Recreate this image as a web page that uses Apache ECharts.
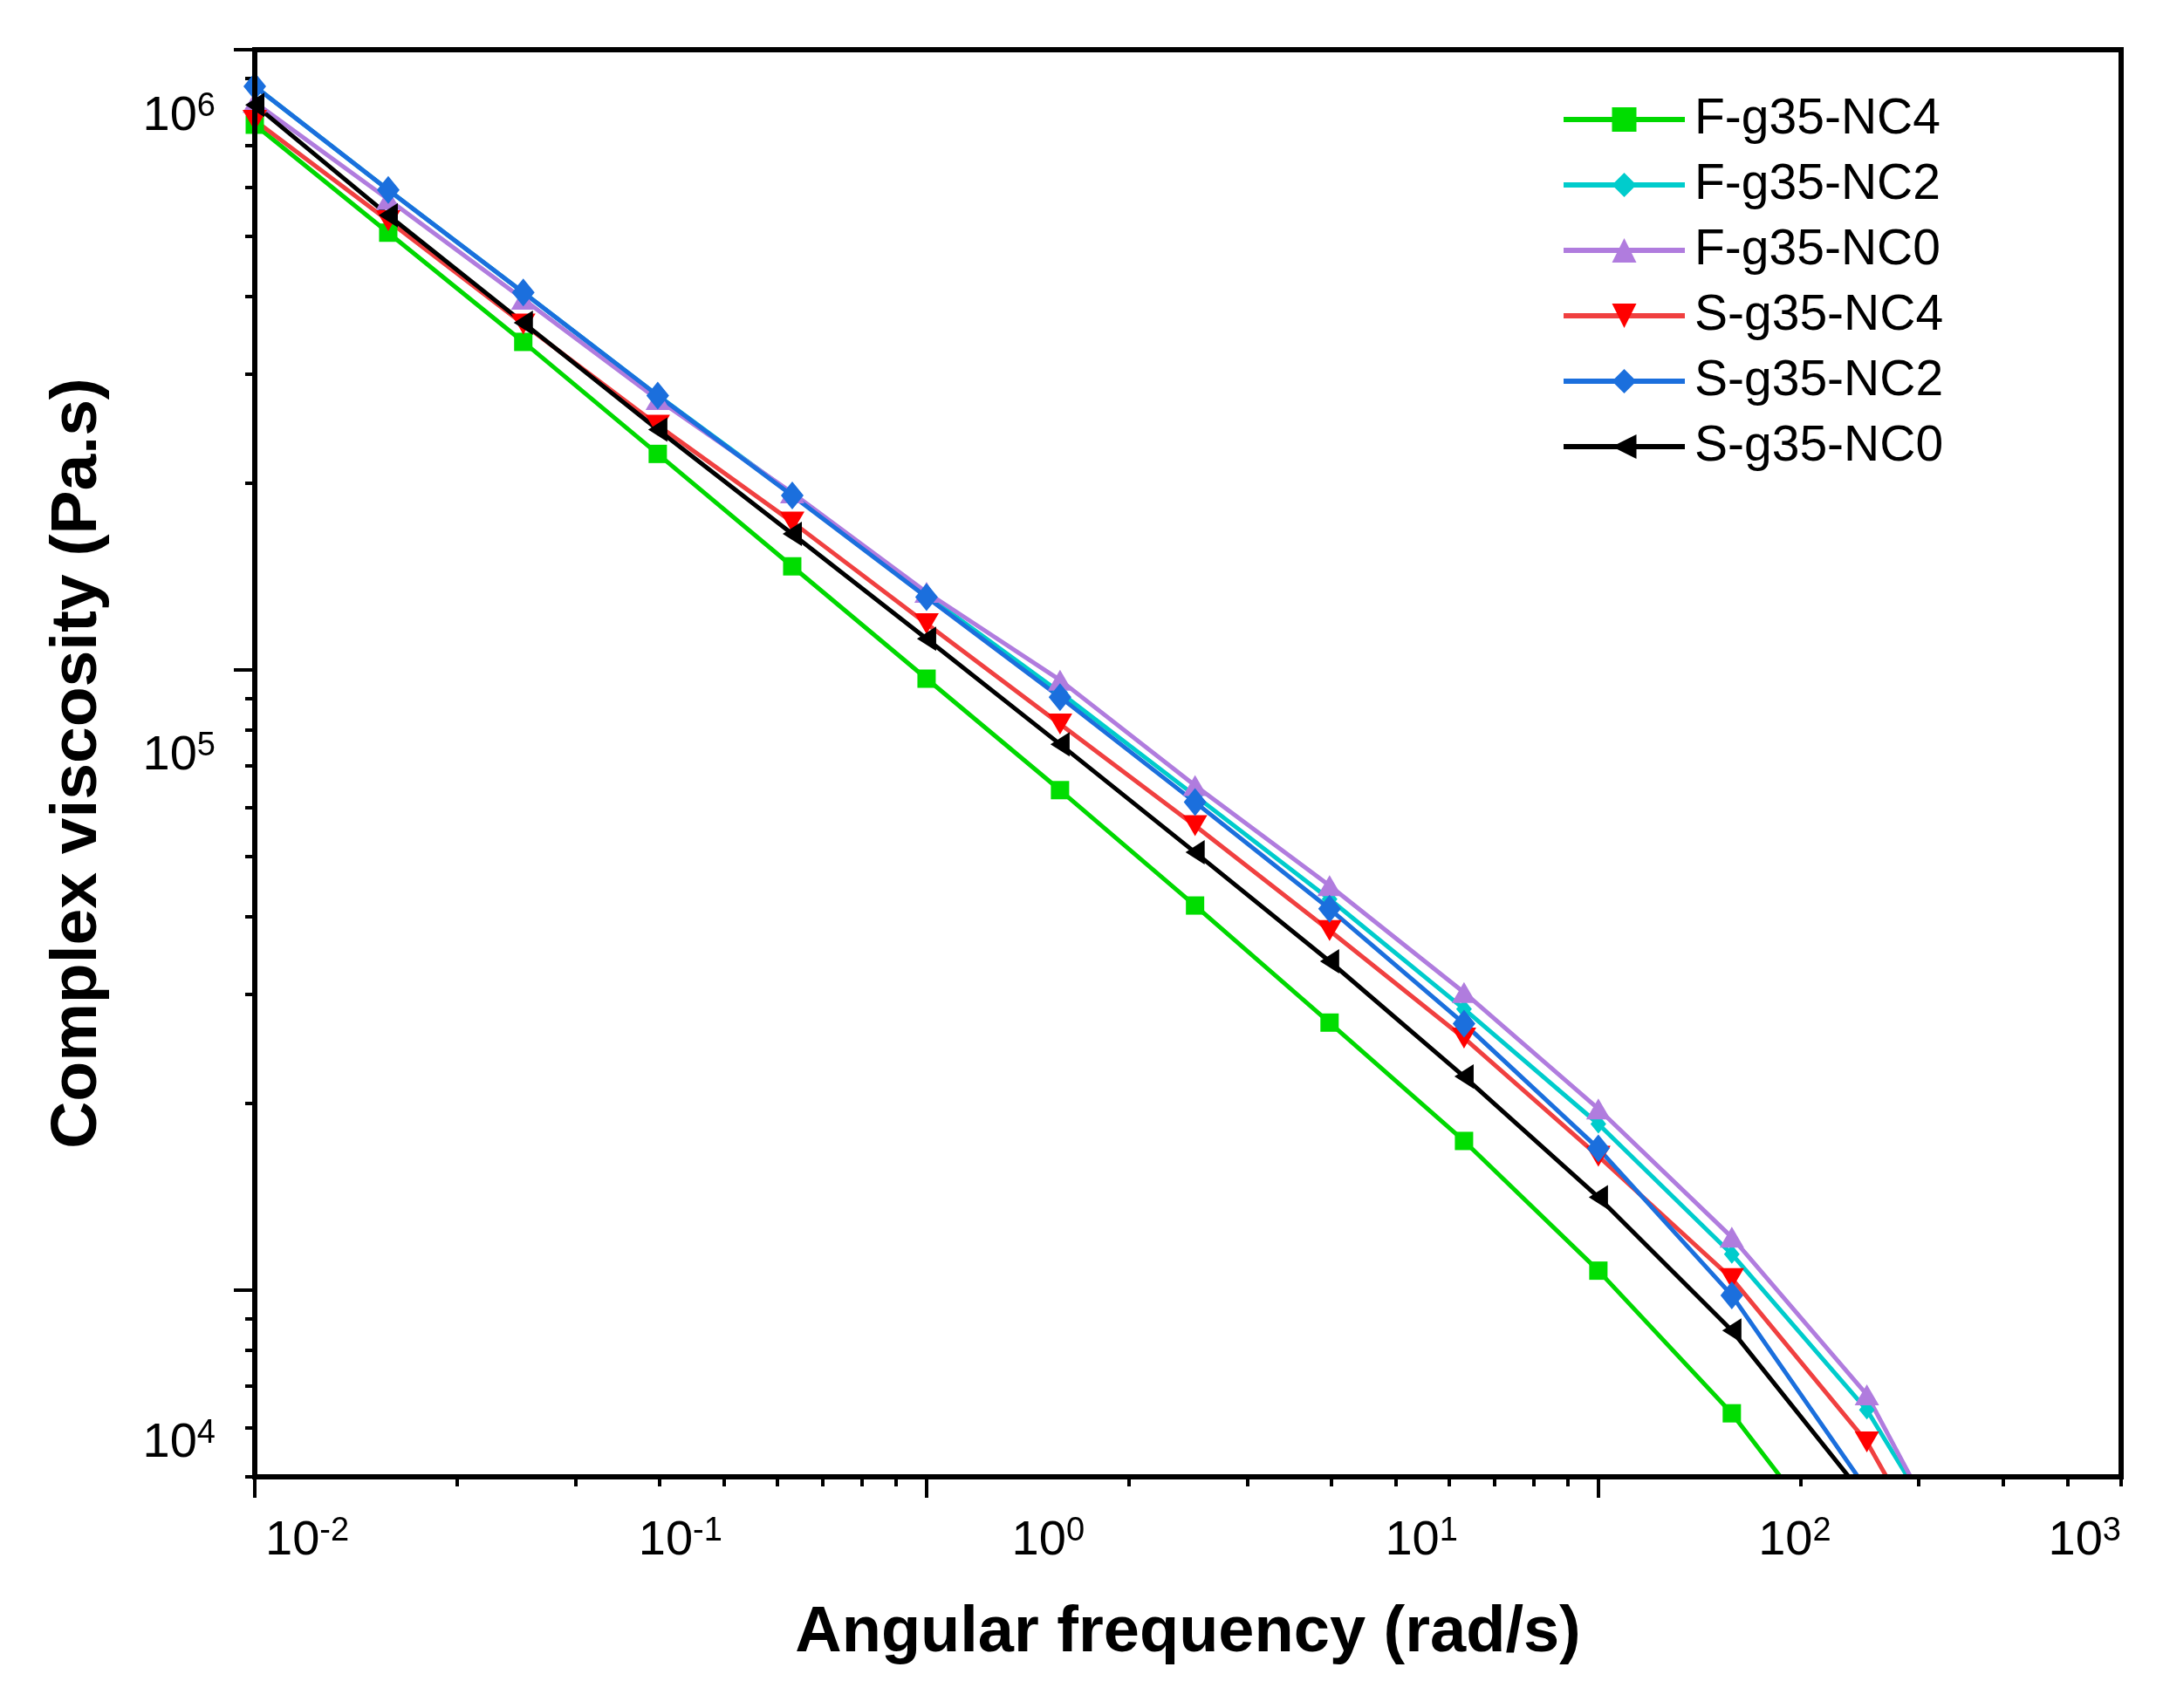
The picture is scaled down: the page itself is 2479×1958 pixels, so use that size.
<!DOCTYPE html>
<html><head><meta charset="utf-8">
<script src="https://cdn.jsdelivr.net/npm/echarts@6/dist/echarts.min.js"></script>
<style>html,body{margin:0;padding:0;background:#fff}#c{width:2479px;height:1958px}</style>
</head><body><div id="c"></div>
<script>
// ---- data (angular frequency in rad/s, complex viscosity in Pa.s) ----
const freq = [0.01, 0.0158, 0.0251, 0.0398, 0.0631, 0.1, 0.158, 0.251, 0.398, 0.631, 1, 1.58, 2.51, 3.98];
const seriesNames = ['F-g35-NC4', 'F-g35-NC2', 'F-g35-NC0', 'S-g35-NC4', 'S-g35-NC2', 'S-g35-NC0'];
const fNC4 = [757000, 507000, 338000, 223000, 146900, 96800, 64000, 41700, 27000, 17400, 10750, 6330, 3290];
const fNC2 = [873000, 594000, 406000, 277000, 192000, 132000, 92000, 62700, 42700, 28400, 18530, 11430, 6410, 2820];
const fNC0 = [823000, 574000, 396000, 273000, 193000, 133400, 96300, 65100, 44900, 30200, 19600, 12170, 6780, 2660];
const sNC4 = [769000, 530000, 361000, 248000, 173200, 118700, 81800, 56100, 38000, 25500, 16440, 10440, 5690, 2350];
const sNC2 = [873000, 594000, 406000, 277000, 191100, 131000, 90400, 61200, 41200, 26900, 16920, 9810, 4770];
const sNC0 = [815000, 541000, 363000, 244000, 165700, 112300, 75900, 50800, 33900, 22100, 14120, 8610, 4600];

// ---- axis ticks and tick labels ----
const xMajorTicks = [0.01, 0.1, 1];
const xMinorTicks = [0.02, 0.03, 0.04, 0.05, 0.06, 0.07, 0.08, 0.09, 0.2, 0.3, 0.4, 0.5, 0.6, 0.7, 0.8, 0.9, 2, 3, 4, 5, 6];
const yMajorTicks = [10000, 100000, 1000000];
const yMinorTicks = [5000, 6000, 7000, 8000, 9000, 20000, 30000, 40000, 50000, 60000, 70000, 80000, 90000,
  200000, 300000, 400000, 500000, 600000, 700000, 800000, 900000];
const xTickExps = ['-2', '-1', '0', '1', '2', '3'];
const yTickExps = ['4', '5', '6'];
const xTitle = 'Angular frequency (rad/s)';
const yTitle = 'Complex viscosity (Pa.s)';

const FONT = 'Liberation Sans';
const X_MIN = 0.01, X_MAX = 6, Y_MIN = 5000, Y_MAX = 1000000;
const lg = Math.log10;
// the printed y tick labels sit slightly off the decade ticks in the original figure
const yLabelAnchors = [3.753, 4.862, 5.892];

const rich = {
  b: { fontSize: 56, lineHeight: 60, fontFamily: FONT, color: '#000' },
  s: { fontSize: 38, lineHeight: 22, verticalAlign: 'top', fontFamily: FONT, color: '#000' }
};
const supLabel = (exps) => (v) => {
  const i = exps.map(Number).indexOf(Math.round(v));
  return '{b|10}{s|' + (i >= 0 ? exps[i] : '') + '}';
};
const tickLine = { color: '#000', width: 4 };
const noLine = { show: false, onZero: false };

function mk(name, vals, color, lineColor, symbol, size, rotate) {
  return {
    name, type: 'line', xAxisIndex: 0, yAxisIndex: 0,
    data: vals.map((v, i) => [freq[i], v]),
    symbol, symbolSize: size, symbolRotate: rotate || 0,
    lineStyle: { color: lineColor, width: 5 },
    itemStyle: { color },
    clip: true, animation: false
  };
}

const chart = echarts.init(document.getElementById('c'), null, { renderer: 'canvas' });
chart.setOption({
  backgroundColor: '#fff',
  animation: false,
  grid: { left: 292, right: 48, top: 57, bottom: 265, show: true, borderColor: '#000', borderWidth: 6, containLabel: false },
  legend: {
    orient: 'vertical', left: 1784, top: 102,
    itemWidth: 139, itemHeight: 35, itemGap: 15,
    data: seriesNames,
    lineStyle: { width: 6 },
    textStyle: { fontFamily: FONT, fontSize: 57, color: '#000', lineHeight: 60, padding: [0, 0, 0, 6] }
  },
  xAxis: [
    { type: 'log', logBase: 10, min: X_MIN, max: X_MAX, position: 'bottom', z: 5,
      axisLine: { show: true, onZero: false, lineStyle: { color: '#000', width: 6 } },
      axisTick: { show: false }, axisLabel: { show: false }, splitLine: { show: false },
      name: xTitle, nameLocation: 'middle', nameGap: 143,
      nameTextStyle: { fontFamily: FONT, fontSize: 74, fontWeight: 'bold', color: '#000' } },
    { type: 'value', min: lg(X_MIN), max: lg(X_MAX), position: 'bottom', offset: 0,
      axisLine: noLine, splitLine: { show: false }, axisLabel: { show: false },
      axisTick: { show: true, inside: false, length: 24, lineStyle: tickLine, customValues: xMajorTicks.map(lg) } },
    { type: 'value', min: lg(X_MIN), max: lg(X_MAX), position: 'bottom', offset: 0,
      axisLine: noLine, splitLine: { show: false }, axisLabel: { show: false },
      axisTick: { show: true, inside: false, length: 11, lineStyle: tickLine, customValues: xMinorTicks.map(lg) } },
    { type: 'value', min: -2, max: 3, position: 'bottom', offset: 0,
      axisLine: noLine, splitLine: { show: false }, axisTick: { show: false },
      axisLabel: { show: true, customValues: xTickExps.map(Number), formatter: supLabel(xTickExps), rich,
        margin: 44, align: 'left', alignMaxLabel: 'right', padding: [0, 0, 0, 12],
        showMinLabel: true, showMaxLabel: true, hideOverlap: false } }
  ],
  yAxis: [
    { type: 'log', logBase: 10, min: Y_MIN, max: Y_MAX, position: 'left', z: 5,
      axisLine: { show: true, onZero: false, lineStyle: { color: '#000', width: 6 } },
      axisTick: { show: false }, axisLabel: { show: false }, splitLine: { show: false },
      name: yTitle, nameLocation: 'middle', nameGap: 165, nameRotate: 90,
      nameTextStyle: { fontFamily: FONT, fontSize: 75, fontWeight: 'bold', color: '#000' } },
    { type: 'value', min: lg(Y_MIN), max: lg(Y_MAX), position: 'left', offset: 0,
      axisLine: noLine, splitLine: { show: false }, axisLabel: { show: false },
      axisTick: { show: true, inside: false, length: 24, lineStyle: tickLine, customValues: yMajorTicks.map(lg) } },
    { type: 'value', min: lg(Y_MIN), max: lg(Y_MAX), position: 'left', offset: 0,
      axisLine: noLine, splitLine: { show: false }, axisLabel: { show: false },
      axisTick: { show: true, inside: false, length: 11, lineStyle: tickLine, customValues: yMinorTicks.map(lg) } },
    { type: 'value', min: lg(Y_MIN), max: lg(Y_MAX), position: 'left', offset: 0,
      axisLine: noLine, splitLine: { show: false }, axisTick: { show: false },
      axisLabel: { show: true, customValues: yLabelAnchors, formatter: supLabel(yTickExps), rich,
        margin: 45, showMinLabel: true, showMaxLabel: true, hideOverlap: false } }
  ],
  series: [
    mk(seriesNames[0], fNC4, '#00DD00', '#00D800', 'rect', 21),
    mk(seriesNames[1], fNC2, '#00CCCC', '#00CCCC', 'diamond', [18, 22]),
    mk(seriesNames[2], fNC0, '#B07CDE', '#B07CDE', 'triangle', [28, 24]),
    mk(seriesNames[3], sNC4, '#FF0000', '#F04040', 'triangle', [28, 24], 180),
    mk(seriesNames[4], sNC2, '#1B6FDD', '#1B6FDD', 'diamond', [26, 32]),
    mk(seriesNames[5], sNC0, '#000000', '#000000', 'triangle', [28, 22], 90)
  ]
});
</script>
</body></html>
